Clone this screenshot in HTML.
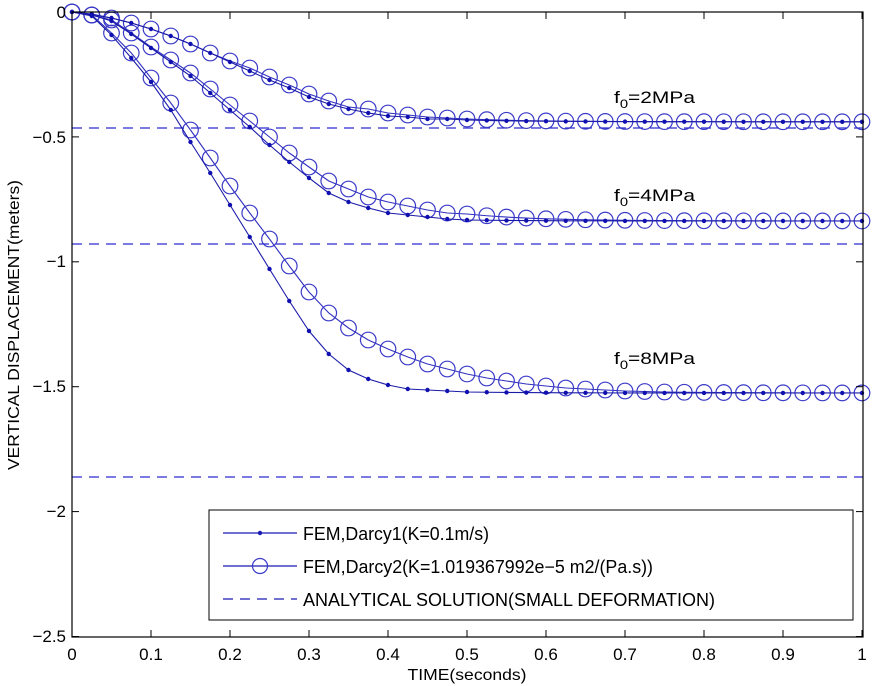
<!DOCTYPE html>
<html><head><meta charset="utf-8"><style>
html,body{margin:0;padding:0;background:#fff;}
svg{display:block;font-family:"Liberation Sans",Arial,sans-serif;}
</style></head><body>
<svg id="s" width="874" height="686" viewBox="0 0 874 686" xmlns="http://www.w3.org/2000/svg">
<rect x="0" y="0" width="874" height="686" fill="#fff"/>
<g id="plot"></g>
<rect x="72" y="12" width="791" height="625" fill="none" stroke="#000" stroke-width="1.2"/>
<g id="ticks" stroke="#000" stroke-width="1"></g>
<g font-size="17" fill="#000" text-anchor="end">
<text x="66" y="18">0</text>
<text x="66" y="143">−0.5</text>
<text x="66" y="267">−1</text>
<text x="66" y="392">−1.5</text>
<text x="66" y="517">−2</text>
<text x="66" y="642">−2.5</text>
</g>
<g font-size="17" fill="#000" text-anchor="middle">
<text x="72" y="660">0</text>
<text x="151" y="660">0.1</text>
<text x="230" y="660">0.2</text>
<text x="309" y="660">0.3</text>
<text x="388" y="660">0.4</text>
<text x="467" y="660">0.5</text>
<text x="546" y="660">0.6</text>
<text x="625" y="660">0.7</text>
<text x="704" y="660">0.8</text>
<text x="783" y="660">0.9</text>
<text x="862" y="660">1</text>
<text x="467" y="680" font-size="16" textLength="119" lengthAdjust="spacingAndGlyphs">TIME(seconds)</text>
<text x="0" y="0" font-size="16" textLength="290" lengthAdjust="spacingAndGlyphs" transform="translate(19,325) rotate(-90)">VERTICAL DISPLACEMENT(meters)</text>
</g>
<g font-size="17" fill="#000">
<text x="614" y="103" textLength="81" lengthAdjust="spacingAndGlyphs">f<tspan font-size="12" dy="5">0</tspan><tspan dy="-5">=2MPa</tspan></text>
<text x="614" y="201" textLength="81" lengthAdjust="spacingAndGlyphs">f<tspan font-size="12" dy="5">0</tspan><tspan dy="-5">=4MPa</tspan></text>
<text x="614" y="364" textLength="81" lengthAdjust="spacingAndGlyphs">f<tspan font-size="12" dy="5">0</tspan><tspan dy="-5">=8MPa</tspan></text>
</g>
<rect x="209" y="510" width="644" height="110" fill="#fff" stroke="#000" stroke-width="1"/>
<g stroke="#1a1ab4" stroke-width="1.2">
<line x1="223" y1="533" x2="297" y2="533"/>
<line x1="223" y1="566" x2="297" y2="566"/>
<line x1="223" y1="599" x2="297" y2="599" stroke-dasharray="10,7"/>
</g>
<circle cx="260" cy="533" r="2.2" fill="#1a1ab4"/>
<circle cx="260" cy="566" r="7.5" fill="none" stroke="#3a3ac8" stroke-width="1.2"/>
<g font-size="18" fill="#000">
<text x="303" y="540" textLength="186" lengthAdjust="spacingAndGlyphs">FEM,Darcy1(K=0.1m/s)</text>
<text x="303" y="573" textLength="350" lengthAdjust="spacingAndGlyphs">FEM,Darcy2(K=1.019367992e−5 m2/(Pa.s))</text>
<text x="303" y="606" textLength="412" lengthAdjust="spacingAndGlyphs">ANALYTICAL SOLUTION(SMALL DEFORMATION)</text>
</g>
</svg>
<script>
var NS="http://www.w3.org/2000/svg";
function X(i){return 72+i*19.75;}
function ext(arr,fin){var a=arr.slice();while(a.length<41){var l=a[a.length-1];a.push(fin-(fin-l)*0.75);}return a;}
var d2=ext([12,14,18,23,29,36,44,53,62,71,80,88,97,104,109,113,116,117,119,119,120],121.8);
var c2=ext([12,15,18,23,29,36,44,53,61,68,77,85,94,101,107,109,113,115,117,118,119],121.8);
var d4=ext([12,15,21,34,48,62,76,93,110,127,145,162,178,193,202,208,213,215,217,219,220],221);
var c4=ext([12,15,20,33,47,60,73,89,105,121,137,153,167,181,189,197,202,206,210,213,214],221);
var d8=ext([12,16,35,58,82,110,142,173,205,237,269,301,331,354,370,379,385,389,390,391,392],393);
var c8=ext([12,15,33,53,78,103,130,158,186,213,239,266,292,313,328,340,349,357,364,369,374,378,381,384,386,388,389,390,391,391.5,392],393);
var g=document.getElementById("plot");
function el(n,a){var e=document.createElementNS(NS,n);for(var k in a)e.setAttribute(k,a[k]);g.appendChild(e);return e;}
[128,244,477].forEach(function(y){el("line",{x1:72,y1:y,x2:863,y2:y,stroke:"#2a2ad0","stroke-width":1.2,"stroke-dasharray":"10,7"});});
function series(a,circ){var p=a.map(function(y,i){return X(i).toFixed(1)+","+y;}).join(" ");
el("polyline",{points:p,fill:"none",stroke:circ?"#3030c0":"#1a1aa8","stroke-width":1.1});
a.forEach(function(y,i){if(circ)el("circle",{cx:X(i),cy:y,r:7.8,fill:"none",stroke:"#3a3ac8","stroke-width":1.2});else el("circle",{cx:X(i),cy:y,r:2.2,fill:"#1010b0"});});}
series(c2,true);series(c4,true);series(c8,true);series(d2,false);series(d4,false);series(d8,false);
var t=document.getElementById("ticks");
function tl(a){var e=document.createElementNS(NS,"line");for(var k in a)e.setAttribute(k,a[k]);t.appendChild(e);}
for(var i=0;i<=10;i++){var x=72+i*79;tl({x1:x,y1:637,x2:x,y2:630});tl({x1:x,y1:12,x2:x,y2:19});}
for(var j=0;j<=5;j++){var y=12+j*124.9;tl({x1:72,y1:y,x2:79,y2:y});tl({x1:863,y1:y,x2:856,y2:y});}
</script>
</body></html>
